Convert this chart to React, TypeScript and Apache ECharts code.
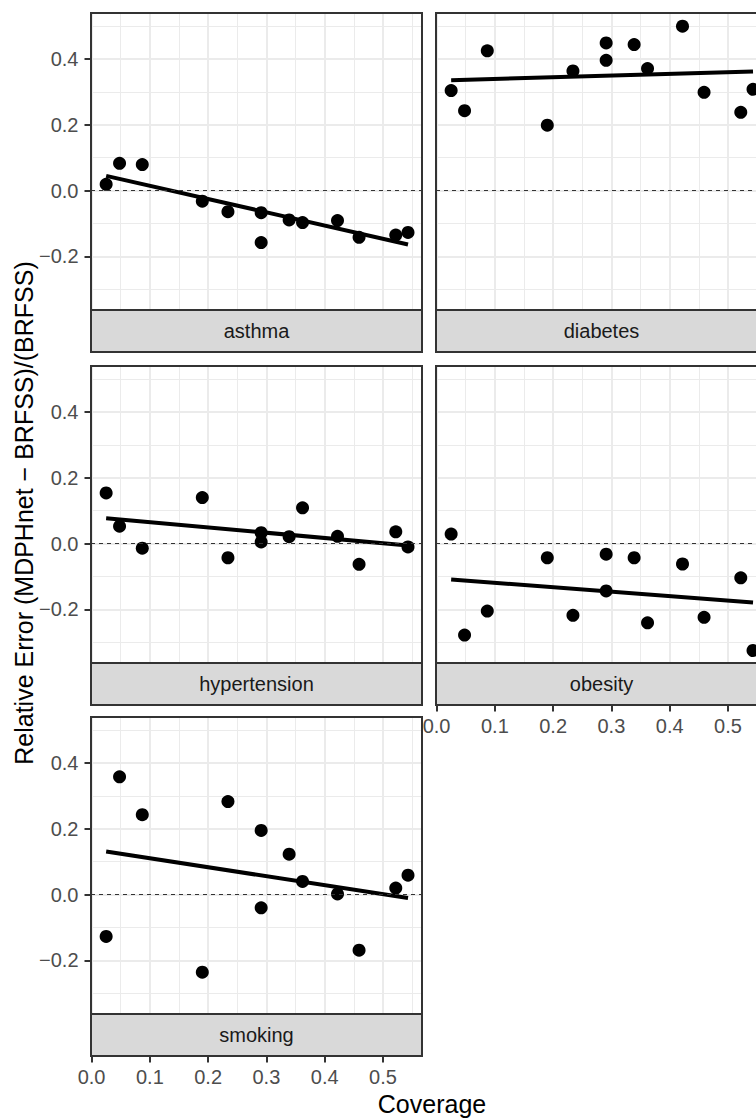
import React, { useEffect, useRef } from "react";
import * as echarts from "echarts";

// ---------------- data ----------------
const coverage = [0.025, 0.048, 0.087, 0.19, 0.234, 0.291, 0.291, 0.339, 0.362, 0.422, 0.459, 0.522, 0.543];
const asthma = [0.019, 0.083, 0.079, -0.032, -0.064, -0.067, -0.158, -0.089, -0.097, -0.091, -0.142, -0.135, -0.127];
const diabetes = [0.304, 0.243, 0.425, 0.199, 0.364, 0.449, 0.396, 0.444, 0.371, 0.5, 0.299, 0.238, 0.308];
const hypertension = [0.154, 0.053, -0.014, 0.14, -0.043, 0.033, 0.005, 0.021, 0.109, 0.022, -0.063, 0.036, -0.01];
const obesity = [0.029, -0.278, -0.205, -0.043, -0.218, -0.032, -0.144, -0.043, -0.241, -0.062, -0.224, -0.104, -0.325];
const smoking = [-0.127, 0.358, 0.243, -0.236, 0.283, 0.195, -0.04, 0.123, 0.04, 0.002, -0.169, 0.02, 0.059];

const panelNames = ["asthma", "diabetes", "hypertension", "obesity", "smoking"];
const panelValues = [asthma, diabetes, hypertension, obesity, smoking];

const xMajorTicks = [0, 0.1, 0.2, 0.3, 0.4, 0.5];
const xMinorTicks = [0.05, 0.15, 0.25, 0.35, 0.45, 0.55];
const yMajorTicks = [-0.2, 0, 0.2, 0.4];
const yMinorTicks = [-0.3, -0.1, 0.1, 0.3, 0.5];

const xTitle = "Coverage";
const yTitle = "Relative Error (MDPHnet \u2212 BRFSS)/(BRFSS)";

// ---------------- layout ----------------
const X_MIN = -0.001;
const X_MAX = 0.567;
const Y_MIN = -0.363;
const Y_MAX = 0.54;
const PANEL_W = 331;
const PANEL_H = 297;
const STRIP_H = 42;
const COL_LEFT = [91, 436];
const ROW_TOP = [13, 366, 717];
const CANVAS_W = 790; // figure is wider than the visible window; right column is cut off
const FONT = "'Liberation Sans', Arial, Helvetica, sans-serif";

function linearFit(xs: number[], ys: number[]) {
  const n = xs.length;
  const mx = xs.reduce((a, b) => a + b, 0) / n;
  const my = ys.reduce((a, b) => a + b, 0) / n;
  let sxy = 0;
  let sxx = 0;
  for (let i = 0; i < n; i++) {
    sxy += (xs[i] - mx) * (ys[i] - my);
    sxx += (xs[i] - mx) * (xs[i] - mx);
  }
  const slope = sxy / sxx;
  return (x: number) => my + slope * (x - mx);
}

const fmt = (v: number) => {
  const s = Math.abs(v).toFixed(1);
  return v < -1e-9 ? "\u2212" + s : s;
};

export default function App() {
  const ref = useRef<HTMLDivElement>(null);

  useEffect(() => {
    if (!ref.current) return;
    const chart = echarts.init(ref.current, undefined, { renderer: "svg" });

    const grids: any[] = [];
    const xAxes: any[] = [];
    const yAxes: any[] = [];
    const series: any[] = [];
    const graphics: any[] = [];

    panelNames.forEach((name, i) => {
      const col = i % 2;
      const row = Math.floor(i / 2);
      const left = COL_LEFT[col];
      const top = ROW_TOP[row];
      const showY = col === 0;
      const showX = i === 3 || i === 4;

      grids.push({ left, top, width: PANEL_W, height: PANEL_H, containLabel: false });

      // major x axis
      xAxes.push({
        type: "value",
        gridIndex: i,
        min: X_MIN,
        max: X_MAX,
        position: "bottom",
        offset: showX ? STRIP_H : 0,
        axisLine: { show: false, onZero: false },
        axisTick: {
          show: showX,
          length: 6.5,
          customValues: xMajorTicks,
          lineStyle: { color: "#333333", width: 2 },
        },
        axisLabel: {
          show: showX,
          customValues: xMajorTicks,
          formatter: fmt,
          color: "#4d4d4d",
          fontSize: 20,
          fontFamily: FONT,
          margin: 11,
        },
        splitLine: { show: true, lineStyle: { color: "#ebebeb", width: 2 } },
      });
      // minor x axis
      xAxes.push({
        type: "value",
        gridIndex: i,
        min: X_MIN,
        max: X_MAX,
        position: "bottom",
        axisLine: { show: false, onZero: false },
        axisTick: { show: false, customValues: xMinorTicks },
        axisLabel: { show: false, customValues: xMinorTicks },
        splitLine: { show: true, lineStyle: { color: "#ebebeb", width: 1 } },
      });
      // major y axis
      yAxes.push({
        type: "value",
        gridIndex: i,
        min: Y_MIN,
        max: Y_MAX,
        position: "left",
        axisLine: { show: false, onZero: false },
        axisTick: {
          show: showY,
          length: 6.5,
          customValues: yMajorTicks,
          lineStyle: { color: "#333333", width: 2 },
        },
        axisLabel: {
          show: showY,
          customValues: yMajorTicks,
          formatter: fmt,
          color: "#4d4d4d",
          fontSize: 20,
          fontFamily: FONT,
          margin: 12.5,
        },
        splitLine: { show: true, lineStyle: { color: "#ebebeb", width: 2 } },
      });
      // minor y axis
      yAxes.push({
        type: "value",
        gridIndex: i,
        min: Y_MIN,
        max: Y_MAX,
        position: "left",
        axisLine: { show: false, onZero: false },
        axisTick: { show: false, customValues: yMinorTicks },
        axisLabel: { show: false, customValues: yMinorTicks },
        splitLine: { show: true, lineStyle: { color: "#ebebeb", width: 1 } },
      });

      const vals = panelValues[i];
      const f = linearFit(coverage, vals);
      const xLo = Math.min(...coverage);
      const xHi = Math.max(...coverage);

      series.push({
        type: "line",
        name: name + "-zero",
        xAxisIndex: 2 * i,
        yAxisIndex: 2 * i,
        data: [],
        z: 2,
        markLine: {
          silent: true,
          symbol: ["none", "none"],
          label: { show: false },
          lineStyle: { color: "#333333", type: [4, 4], width: 1.2 },
          data: [{ yAxis: 0 }],
        },
      });
      series.push({
        type: "scatter",
        name,
        xAxisIndex: 2 * i,
        yAxisIndex: 2 * i,
        symbolSize: 13,
        itemStyle: { color: "#000000", opacity: 1 },
        data: coverage.map((x, j) => [x, vals[j]]),
        z: 3,
      });
      series.push({
        type: "line",
        name: name + "-fit",
        xAxisIndex: 2 * i,
        yAxisIndex: 2 * i,
        showSymbol: false,
        symbol: "none",
        lineStyle: { color: "#000000", width: 4 },
        data: [
          [xLo, f(xLo)],
          [xHi, f(xHi)],
        ],
        z: 4,
      });

      graphics.push({
        type: "rect",
        z: 100,
        shape: { x: left, y: top, width: PANEL_W, height: PANEL_H },
        style: { fill: "none", stroke: "#333333", lineWidth: 2 },
        silent: true,
      });
      graphics.push({
        type: "rect",
        z: 100,
        shape: { x: left, y: top + PANEL_H, width: PANEL_W, height: STRIP_H },
        style: { fill: "#d9d9d9", stroke: "#333333", lineWidth: 2 },
        silent: true,
      });
      graphics.push({
        type: "text",
        z: 101,
        x: left + PANEL_W / 2,
        y: top + PANEL_H + STRIP_H / 2,
        style: {
          text: name,
          fill: "#1a1a1a",
          fontSize: 20,
          fontFamily: FONT,
          align: "center",
          verticalAlign: "middle",
          textAlign: "center",
          textVerticalAlign: "middle",
        },
        silent: true,
      });
    });

    graphics.push({
      type: "text",
      z: 101,
      x: 432,
      y: 1104,
      style: {
        text: xTitle,
        fill: "#000000",
        fontSize: 25,
        fontFamily: FONT,
        align: "center",
        verticalAlign: "middle",
        textAlign: "center",
        textVerticalAlign: "middle",
      },
      silent: true,
    });
    graphics.push({
      type: "text",
      z: 101,
      x: 24,
      y: 513,
      rotation: Math.PI / 2,
      style: {
        text: yTitle,
        fill: "#000000",
        fontSize: 25,
        fontFamily: FONT,
        align: "center",
        verticalAlign: "middle",
        textAlign: "center",
        textVerticalAlign: "middle",
      },
      silent: true,
    });

    chart.setOption({
      animation: false,
      backgroundColor: "#ffffff",
      textStyle: { fontFamily: FONT },
      grid: grids,
      xAxis: xAxes,
      yAxis: yAxes,
      series,
      graphic: { elements: graphics },
    });

    return () => chart.dispose();
  }, []);

  return (
    <div
      style={{
        position: "absolute",
        left: 0,
        top: 0,
        width: 756,
        height: 1118,
        overflow: "hidden",
        background: "#fff",
      }}
    >
      <div ref={ref} style={{ width: CANVAS_W, height: 1118 }} />
    </div>
  );
}
